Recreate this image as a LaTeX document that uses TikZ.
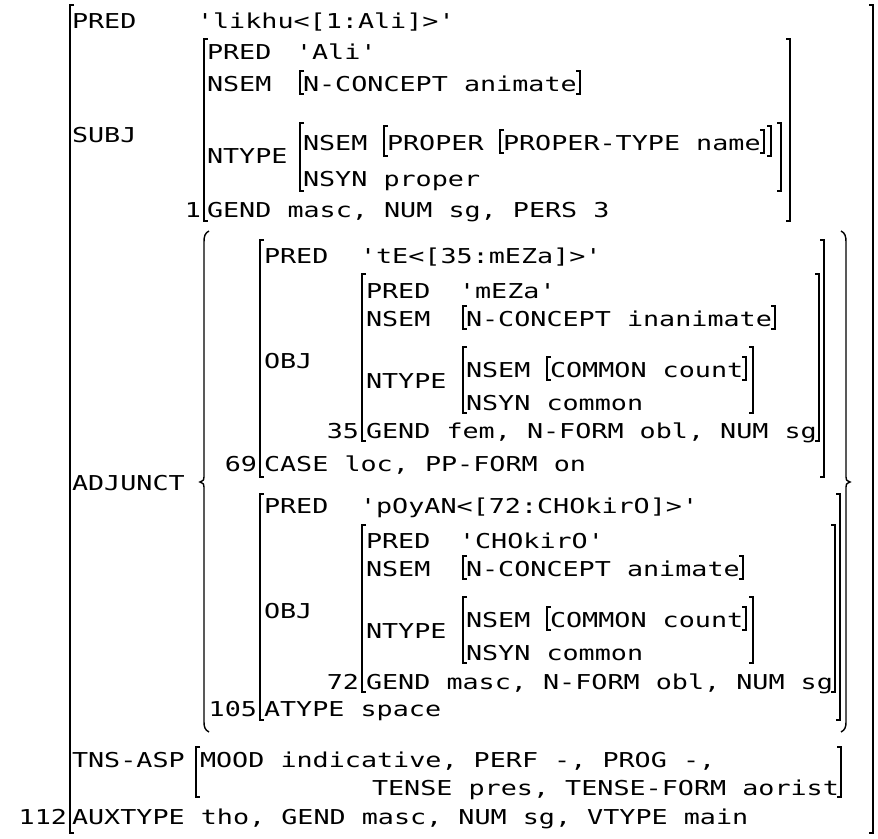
\documentclass[tikz,border=0pt]{standalone}
\usepackage{fontspec}
% monospaced face for the feature structure; \setmonofont keeps straight quotes
\setmonofont[FakeStretch=1.3046]{DejaVu Sans Mono}

% left and right square brackets of one attribute-value box:
% #1 left x, #2 right x, #3 top y, #4 bottom y
\newcommand\avmbox[4]{%
  \draw[brk] (#1+4,#3) -- (#1,#3) -- (#1,#4) -- (#1+4,#4);
  \draw[brk] (#2-4,#3) -- (#2,#3) -- (#2,#4) -- (#2-4,#4);}

\begin{document}
\begin{tikzpicture}[x=1pt,y=-1pt,
  fs/.style={font=\ttfamily\fontsize{20.5}{22}\selectfont, text=black,
             inner sep=0pt, outer sep=0pt, anchor=base west},
  fr/.style={fs, anchor=base east},
  brk/.style={line width=1.4pt, draw=black, line cap=butt}]
\useasboundingbox (0,0) rectangle (878,838);

% ---------------- outermost f-structure ----------------
\avmbox{70}{873}{5}{833}
\node[fs] (pred0) at (72,28) {PRED};
\node[fs] (val0) at (197,28) {'likhu<[1:Ali]>'};
\node[fs] (subj) at (72,142) {SUBJ};
\node[fs] (adj) at (72,490) {ADJUNCT};
\node[fs] (tns) at (72,767) {TNS-ASP};
\node[fs] (aux) at (72,824) {AUXTYPE tho, GEND masc, NUM sg, VTYPE main};
\node[fr] (id112) at (67,824) {112};

% ---------------- SUBJ (1) ----------------
\avmbox{204}{790}{39}{221}
\node[fs] (s-pred) at (207,59) {PRED};
\node[fs] (s-predv) at (296,59) {'Ali'};
\node[fs] (s-nsem) at (207,91) {NSEM};
\avmbox{300}{580}{71}{94}
\node[fs] (s-nsemv) at (303,91) {N-CONCEPT animate};
\node[fs] (s-ntype) at (207,163) {NTYPE};
\avmbox{300}{781}{123}{191}
\node[fs] (s-nt-nsem) at (303,150) {NSEM};
\avmbox{384}{771}{126}{156}
\node[fs] (s-proper) at (387,150) {PROPER};
\avmbox{500}{764}{130}{153}
\node[fs] (s-ptype) at (503,150) {PROPER-TYPE name};
\node[fs] (s-nsyn) at (303,186) {NSYN proper};
\node[fs] (s-gend) at (207,217) {GEND masc, NUM sg, PERS 3};
\node[fr] (id1) at (201,217) {1};

% ---------------- ADJUNCT set ----------------
\draw[brk] (209,231) .. controls (205,233) and (204,236) .. (204,242)
  -- (204,477) .. controls (204,480) .. (200,482)
  .. controls (204,484) .. (204,487) -- (204,722)
  .. controls (204,727) and (205,730) .. (209,732);
\draw[brk] (841,231) .. controls (845,233) and (846,236) .. (846,242)
  -- (846,477) .. controls (846,480) .. (850,482)
  .. controls (846,484) .. (846,487) -- (846,722)
  .. controls (846,727) and (845,730) .. (841,732);

% adjunct 69
\avmbox{260}{824}{240}{477}
\node[fs] (a1-pred) at (264,263) {PRED};
\node[fs] (a1-predv) at (360,263) {'tE<[35:mEZa]>'};
\node[fs] (a1-obj) at (264,368) {OBJ};
\avmbox{362}{819}{274}{441}
\node[fs] (o1-pred) at (366,298) {PRED};
\node[fs] (o1-predv) at (459,298) {'mEZa'};
\node[fs] (o1-nsem) at (366,326) {NSEM};
\avmbox{463}{775}{306}{329}
\node[fs] (o1-nsemv) at (466,326) {N-CONCEPT inanimate};
\node[fs] (o1-ntype) at (366,388) {NTYPE};
\avmbox{463}{753}{347}{413}
\node[fs] (o1-nt-nsem) at (466,377) {NSEM};
\avmbox{547}{746}{357}{380}
\node[fs] (o1-common) at (550,377) {COMMON count};
\node[fs] (o1-nsyn) at (466,410) {NSYN common};
\node[fs] (o1-gend) at (366,438) {GEND fem, N-FORM obl, NUM sg};
\node[fr] (id35) at (359,438) {35};
\node[fs] (a1-case) at (264,471) {CASE loc, PP-FORM on};
\node[fr] (id69) at (257,471) {69};

% adjunct 105
\avmbox{260}{840}{494}{720}
\node[fs] (a2-pred) at (264,513) {PRED};
\node[fs] (a2-predv) at (360,513) {'pOyAN<[72:CHOkirO]>'};
\node[fs] (a2-obj) at (264,618) {OBJ};
\avmbox{362}{835}{525}{692}
\node[fs] (o2-pred) at (366,548) {PRED};
\node[fs] (o2-predv) at (459,548) {'CHOkirO'};
\node[fs] (o2-nsem) at (366,576) {NSEM};
\avmbox{463}{743}{556}{579}
\node[fs] (o2-nsemv) at (466,576) {N-CONCEPT animate};
\node[fs] (o2-ntype) at (366,638) {NTYPE};
\avmbox{463}{753}{597}{663}
\node[fs] (o2-nt-nsem) at (466,627) {NSEM};
\avmbox{547}{746}{607}{630}
\node[fs] (o2-common) at (550,627) {COMMON count};
\node[fs] (o2-nsyn) at (466,660) {NSYN common};
\node[fs] (o2-gend) at (366,689) {GEND masc, N-FORM obl, NUM sg};
\node[fr] (id72) at (359,689) {72};
\node[fs] (a2-atype) at (264,716) {ATYPE space};
\node[fr] (id105) at (257,716) {105};

% ---------------- TNS-ASP ----------------
\avmbox{196}{841}{747}{797}
\node[fs] (t-line1) at (200,767) {MOOD indicative, PERF -, PROG -,};
\node[fs] (t-line2) at (372,795) {TENSE pres, TENSE-FORM aorist};
\end{tikzpicture}
\end{document}
